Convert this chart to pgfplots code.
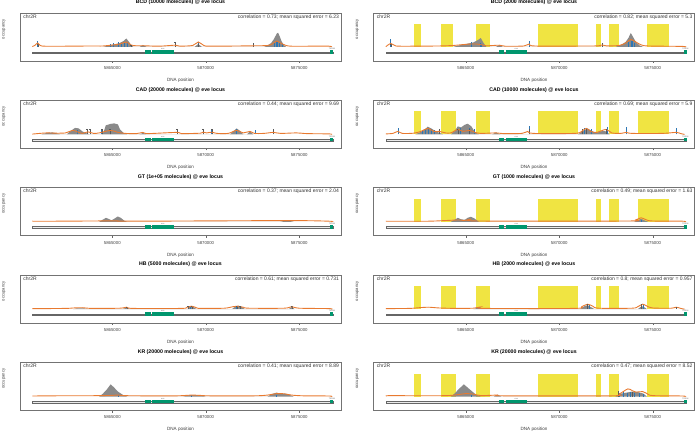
\documentclass[border=0pt]{standalone}
\usepackage{fontspec}
\setmainfont{Liberation Sans}
\usepackage{pgfplots}
\pgfplotsset{compat=1.18}
\definecolor{occgray}{RGB}{138,138,138}
\definecolor{predorange}{RGB}{232,122,48}
\definecolor{siteblue}{RGB}{45,118,180}
\definecolor{genegreen}{RGB}{0,150,110}
\definecolor{yel}{RGB}{240,228,66}
\pgfplotsset{
  every axis title/.style={at={(0.5,1.221)}, anchor=center, font=\bfseries\fontsize{5.2}{6}\selectfont},
  panel/.style={
    scale only axis, width=321pt, height=48pt,
    xmin=5860062, xmax=5877236, ymin=-14, ymax=34,
    axis line style={draw=black!55, line width=0.7pt},
    xtick={5865000,5870000,5875000},
    xticklabels={5865000,5870000,5875000},
    scaled x ticks=false,
    ytick=\empty,
    xtick pos=bottom, xtick align=outside,
    major tick length=2pt,
    every tick/.style={black!60, line width=0.4pt},
    /pgf/number format/assume math mode=true,
    xticklabel style={font=\fontsize{4.3}{5}\selectfont, text=black!75, inner sep=1pt, yshift=-2pt},
    xlabel={DNA position},
    xlabel style={font=\fontsize{4.6}{5}\selectfont, text=black!75, at={(axis description cs:0.5,-0.4)}, anchor=center},
    ylabel={occupancy},
    ylabel style={font=\fontsize{4.2}{5}\selectfont, text=black!75, at={(axis description cs:-0.05,0.667)}, anchor=center},
  },
  occ/.style={fill=occgray, draw=none},
  pred/.style={predorange, line width=0.9pt, smooth, no marks},
  site/.style={ycomb, siteblue, line width=0.6pt, no marks},
  err/.style={ycomb, black!65, line width=0.2pt, mark=-, mark size=0.6pt, mark options={line width=0.2pt}},
}
\newcommand{\yel}[2]{\addplot[fill=yel, draw=none] coordinates {(#1,0)(#1,23)(#2,23)(#2,0)} --cycle;}
\newcommand{\genetrack}{%
  \addplot[draw=black!60, fill=black!8, line width=0.3pt] coordinates {(5860720,-6.3)(5876800,-6.3)(5876800,-4.7)(5860720,-4.7)} --cycle;
  \addplot[draw=none, fill=genegreen] coordinates {(5866750,-6.8)(5867055,-6.8)(5867055,-3.2)(5866750,-3.2)} --cycle;
  \addplot[draw=none, fill=genegreen] coordinates {(5867125,-6.8)(5868300,-6.8)(5868300,-3.2)(5867125,-3.2)} --cycle;
  \addplot[draw=none, fill=genegreen] coordinates {(5876650,-6.8)(5876810,-6.8)(5876810,-3.2)(5876650,-3.2)} --cycle;
  \node[anchor=south, inner sep=0.2pt, font=\fontsize{2}{2}\selectfont, text=black!60] at (axis cs:5867700,-3.2) {eve};
  \node[anchor=south, inner sep=0.2pt, font=\fontsize{2}{2}\selectfont, text=black!60] at (axis cs:5876750,-3.2) {TER94};
}
\newcommand{\paneltext}[1]{%
  \node[anchor=north west, inner sep=0pt, font=\fontsize{5}{6}\selectfont, text=black!80] at (rel axis cs:0.01,0.975) {chr2R};
  \node[anchor=north east, inner sep=0pt, font=\fontsize{5}{6}\selectfont, text=black!80] at (rel axis cs:0.994,0.975) {#1};
}
\begin{document}
\begin{tikzpicture}
\useasboundingbox (0pt,0pt) rectangle (697pt,437pt);

% ---------------- L1 BCD 10000
\begin{axis}[panel, at={(20pt,376pt)}, anchor=south west, title={BCD (10000 molecules) @ eve locus}]
\addplot[occ] coordinates {(5864500,0)(5864800,1.5)(5865100,2.5)(5865400,4)(5865600,6)(5865750,8.5)(5865900,5)(5866040,1)(5866150,0)(5866450,0)(5866640,2)(5866850,0)(5869400,0)(5869601,3)(5869800,0)(5873100,0)(5873300,1.5)(5873500,4)(5873650,8)(5873800,13.5)(5873870,14.3)(5873950,11)(5874050,6)(5874150,2.5)(5874300,0)};
\addplot[site] coordinates {(5861009,5.5)(5864900,3)(5865050,4)(5865300,4.5)(5865500,3)(5865650,5)(5865780,4.5)(5869601,5)(5873650,4)(5873750,5.5)(5873850,6)(5873950,4)(5874100,3)};
\addplot[err] coordinates {(5861009,3)(5866000,2)(5868354,5)(5869601,3)(5872544,4)};
\addplot[pred] coordinates {(5860720,0.5)(5860850,1.5)(5861009,4)(5861150,1.5)(5861400,0.8)(5862500,0.8)(5863800,1)(5864500,1)(5865000,2)(5865400,3)(5865750,5)(5866000,2)(5866300,1.2)(5866640,1.3)(5867500,0.8)(5868354,1.8)(5868600,0.9)(5869300,1.5)(5869601,5)(5869900,1.5)(5870300,0.8)(5872544,1.2)(5873300,1.5)(5873550,3)(5873800,6)(5874000,4)(5874300,1.5)(5874600,0.8)(5875500,0.8)(5876600,0.8)(5876700,0.2)};
\genetrack
\paneltext{correlation = 0.73; mean squared error = 6.23}
\end{axis}

% ---------------- R1 BCD 2000
\begin{axis}[panel, at={(373.5pt,376pt)}, anchor=south west, title={BCD (2000 molecules) @ eve locus}]
\yel{5862218}{5862614}\yel{5863662}{5864304}\yel{5865556}{5866321}\yel{5868889}{5871003}\yel{5871966}{5872249}\yel{5872688}{5873196}\yel{5874721}{5875898}
\addplot[occ] coordinates {(5864300,0)(5864600,1.5)(5865000,3)(5865400,4.5)(5865650,7)(5865803,9)(5865950,4)(5866100,0)(5866600,0)(5866787,2)(5867000,0)(5873000,0)(5873300,2)(5873550,5)(5873700,9)(5873828,14)(5873950,10)(5874100,5)(5874300,1.5)(5874500,0)};
\addplot[site] coordinates {(5860987,8)(5865268,5)(5865750,4)(5865850,3)(5868392,6)(5872323,4)(5873700,5)(5873828,6)(5873900,6)(5874000,4)};
\addplot[err] coordinates {(5860987,3)(5872313,4)};
\addplot[pred] coordinates {(5860720,0.3)(5860800,1.5)(5860987,3.5)(5861200,1.5)(5861500,0.8)(5863500,1)(5864300,1.5)(5864900,2.5)(5865268,3)(5865550,3)(5865800,2.5)(5866100,1.2)(5866787,1.8)(5867100,0.8)(5868100,1)(5868392,3)(5868700,1)(5871500,1)(5872100,1.2)(5872300,2)(5872500,1.2)(5873200,1.5)(5873550,4)(5873828,7.5)(5874100,5)(5874400,2)(5874800,1)(5876600,0.6)(5876700,0)};
\genetrack
\paneltext{correlation = 0.82; mean squared error = 5.3}
\end{axis}

% ---------------- L2 CAD 20000
\begin{axis}[panel, at={(20pt,288.6pt)}, anchor=south west, title={CAD (20000 molecules) @ eve locus}]
\addplot[occ] coordinates {(5861200,0)(5861500,1.5)(5861800,2)(5862041,1)(5862200,0)(5862560,0)(5862750,3)(5863004,6.5)(5863200,6)(5863400,3)(5863630,1)(5863800,0)(5864433,0)(5864550,3)(5864650,9)(5864900,10.5)(5865100,11)(5865300,10)(5865412,5)(5865600,1.5)(5865800,0)(5866450,0)(5866640,1.5)(5866850,0)(5871300,0)(5871500,3.5)(5871655,6)(5871832,3.5)(5872000,0)(5872200,0)(5872367,3)(5872550,0)};
\addplot[site] coordinates {(5863127,4)(5863807,3)(5864433,4)(5864877,5)(5869852,4)(5870318,4)(5871655,5)(5872634,4)};
\addplot[err] coordinates {(5863630,5)(5863807,5)(5864433,5)(5864877,5)(5868445,5)(5869852,5)(5870318,5)(5873614,5)};
\addplot[pred] coordinates {(5860720,0.3)(5861000,0.8)(5861500,1.5)(5862000,1.2)(5862500,1.5)(5862897,4)(5863200,2)(5863400,1)(5863700,2.5)(5864000,1)(5864300,1.5)(5864914,4)(5865300,2)(5865700,1)(5866300,0.8)(5866640,2)(5866900,0.8)(5868445,2)(5868700,0.8)(5869700,1.2)(5869852,2.2)(5870050,1.5)(5870318,2.2)(5870600,1)(5871200,1)(5871655,4)(5872000,1.5)(5872367,3)(5872600,1)(5873100,1)(5873614,2)(5874000,1)(5874865,1.5)(5875400,0.8)(5876600,0.5)(5876700,0)};
\genetrack
\paneltext{correlation = 0.44; mean squared error = 9.69}
\end{axis}

% ---------------- R2 CAD 10000
\begin{axis}[panel, at={(373.5pt,288.6pt)}, anchor=south west, title={CAD (10000 molecules) @ eve locus}]
\yel{5862218}{5862614}\yel{5863662}{5864486}\yel{5865556}{5866321}\yel{5868889}{5871003}\yel{5871966}{5872249}\yel{5872688}{5873196}\yel{5874223}{5875898}
\addplot[occ] coordinates {(5862300,0)(5862600,2.5)(5862800,5)(5862967,7.7)(5863150,6)(5863400,3)(5863593,1.5)(5863800,0)(5864200,0)(5864395,3)(5864572,8)(5864750,7)(5864930,9.5)(5865100,10.7)(5865300,8)(5865500,2)(5865700,0)(5866400,0)(5866626,2)(5866850,0)(5871000,0)(5871243,3)(5871511,6)(5871778,3)(5872000,1.5)(5872313,3.5)(5872511,3)(5872700,0)};
\addplot[site] coordinates {(5861362,6)(5862683,4)(5862850,5)(5863000,6)(5863150,5)(5863325,4)(5864680,6)(5865198,6)(5865465,5)(5868380,8)(5871350,6)(5871709,5)(5872581,7)(5873581,7)(5876256,6)};
\addplot[err] coordinates {(5863593,5)(5864572,5)(5865198,5)(5868392,5)(5871243,5)(5871441,5)(5872511,5)};
\addplot[pred] coordinates {(5860720,0.5)(5861100,1)(5861362,3)(5861600,1)(5862200,1.2)(5862600,3)(5862967,6)(5863300,3)(5863593,3)(5863900,1.5)(5864200,1.5)(5864572,5)(5864850,3)(5865198,4)(5865500,2)(5865800,1)(5866626,1.5)(5867000,0.8)(5868000,1)(5868317,3)(5868600,1)(5870800,1)(5871200,3)(5871441,6)(5871700,3)(5872000,2)(5872511,5)(5872800,1.5)(5873300,1)(5873581,2)(5873900,1)(5875500,1)(5876256,2)(5876500,0.8)(5876700,0)};
\genetrack
\paneltext{correlation = 0.69; mean squared error = 5.9}
\end{axis}

% ---------------- L3 GT 1e+05
\begin{axis}[panel, at={(20pt,201.2pt)}, anchor=south west, title={GT (1e+05 molecules) @ eve locus}]
\addplot[occ] coordinates {(5864300,0)(5864480,2)(5864663,4)(5864850,2.5)(5864960,1.5)(5865100,3)(5865289,5.3)(5865450,4)(5865650,1)(5865800,0)(5874000,0)(5874350,1.5)(5874700,0)};
\addplot[pred] coordinates {(5860720,0.6)(5862000,0.6)(5864663,0.9)(5865289,1)(5866000,0.6)(5874350,1.2)(5876600,0.6)(5876700,0)};
\genetrack
\paneltext{correlation = 0.37; mean squared error = 2.04}
\end{axis}

% ---------------- R3 GT 1000
\begin{axis}[panel, at={(373.5pt,201.2pt)}, anchor=south west, title={GT (1000 molecules) @ eve locus}]
\yel{5862218}{5862614}\yel{5863662}{5864486}\yel{5865556}{5866321}\yel{5868889}{5871003}\yel{5871966}{5872249}\yel{5872688}{5873196}\yel{5874223}{5875898}
\addplot[occ] coordinates {(5864200,0)(5864400,2)(5864572,4)(5864750,2.5)(5864950,2)(5865100,4)(5865268,5)(5865450,3.5)(5865700,0)(5874000,0)(5874200,1.5)(5874384,3)(5874550,1.5)(5874750,0)};
\addplot[site] coordinates {(5874384,2)};
\addplot[pred] coordinates {(5860720,0.6)(5863000,0.6)(5864572,1.8)(5864900,1.2)(5865268,2.5)(5865700,0.8)(5873600,0.8)(5874100,2)(5874384,4)(5874650,2)(5875000,0.8)(5876600,0.6)(5876700,0)};
\genetrack
\paneltext{correlation = 0.49; mean squared error = 1.63}
\end{axis}

% ---------------- L4 HB 5000
\begin{axis}[panel, at={(20pt,113.8pt)}, anchor=south west, title={HB (5000 molecules) @ eve locus}]
\addplot[occ] coordinates {(5862900,0)(5863100,0.8)(5863500,0.8)(5863700,0)(5865500,0)(5865770,1.5)(5866000,0)(5869000,0)(5869150,2.5)(5869300,3)(5869500,0)(5871400,0)(5871600,3)(5871750,3.5)(5871950,2)(5872100,0)(5874450,0)(5874600,2.5)(5874750,0)};
\addplot[site] coordinates {(5869150,2)(5871650,2.5)};
\addplot[err] coordinates {(5865770,2.5)(5869050,3)(5869248,3)(5871655,3)(5871832,3)(5874598,3)};
\addplot[pred] coordinates {(5860720,0.5)(5862500,0.8)(5862900,1.2)(5863400,1.5)(5863900,0.8)(5865400,1)(5865770,2)(5866100,0.8)(5868700,0.8)(5869000,2)(5869250,3)(5869500,1.5)(5869700,0.8)(5871000,1)(5871450,2.5)(5871700,3)(5872000,2)(5872300,1)(5874200,1)(5874598,2.5)(5875000,1)(5876600,0.6)(5876700,0)};
\genetrack
\paneltext{correlation = 0.61; mean squared error = 0.731}
\end{axis}

% ---------------- R4 HB 2000
\begin{axis}[panel, at={(373.5pt,113.8pt)}, anchor=south west, title={HB (2000 molecules) @ eve locus}]
\yel{5862218}{5862614}\yel{5863662}{5864486}\yel{5865556}{5866321}\yel{5868889}{5871003}\yel{5871966}{5872249}\yel{5872688}{5873196}\yel{5874721}{5875898}
\addplot[occ] coordinates {(5865400,0)(5865733,2)(5866000,0)(5871100,0)(5871350,3)(5871511,4)(5871700,2)(5871900,0)(5874200,0)(5874400,3)(5874550,2)(5874700,0)};
\addplot[site] coordinates {(5871618,4)(5874470,4)};
\addplot[err] coordinates {(5871511,5)(5874400,5)(5876256,2)};
\addplot[pred] coordinates {(5860720,0.6)(5862000,0.8)(5862500,1.5)(5863000,2)(5863600,1.2)(5864500,0.8)(5865400,1)(5865733,2)(5866000,0.8)(5870800,0.8)(5871200,2.5)(5871511,5)(5871800,3)(5872100,1)(5873900,1)(5874200,2.5)(5874470,5)(5874700,3)(5875000,1.2)(5876000,1)(5876256,2)(5876500,0.8)(5876700,0)};
\genetrack
\paneltext{correlation = 0.8; mean squared error = 0.957}
\end{axis}

% ---------------- L5 KR 20000
\begin{axis}[panel, at={(20pt,26.4pt)}, anchor=south west, title={KR (20000 molecules) @ eve locus}]
\addplot[occ] coordinates {(5864300,0)(5864500,3)(5864700,7)(5864914,12.3)(5865100,9)(5865300,5)(5865589,1.5)(5865800,0)(5868800,0)(5869100,1.5)(5869700,1.5)(5870000,0)(5873300,0)(5873528,2.5)(5873795,4)(5874050,2.5)(5874240,3)(5874450,2)(5874700,0)};
\addplot[site] coordinates {(5865305,1.5)(5869248,1.5)(5873795,2)};
\addplot[pred] coordinates {(5860720,0.6)(5862000,0.8)(5864000,0.9)(5865000,1.2)(5865235,1.6)(5865600,1)(5866500,0.8)(5868500,0.8)(5869200,1.5)(5869700,1.2)(5870200,0.8)(5872600,0.8)(5873300,1.5)(5873800,3)(5874200,2.8)(5874600,1.5)(5875200,0.8)(5876600,0.6)(5876700,0)};
\genetrack
\paneltext{correlation = 0.41; mean squared error = 8.89}
\end{axis}

% ---------------- R5 KR 20000
\begin{axis}[panel, at={(373.5pt,26.4pt)}, anchor=south west, title={KR (20000 molecules) @ eve locus}]
\yel{5862218}{5862614}\yel{5863662}{5864486}\yel{5865556}{5866321}\yel{5868889}{5871003}\yel{5871966}{5872249}\yel{5872688}{5873196}\yel{5874721}{5875898}
\addplot[occ] coordinates {(5864200,0)(5864400,3)(5864600,7)(5864893,12.3)(5865100,9)(5865350,5)(5865550,2)(5865800,0)(5866500,0)(5866700,2)(5866900,0)(5873000,0)(5873300,3)(5873600,4)(5873900,5)(5874200,4.5)(5874500,3)(5874700,0)};
\addplot[site] coordinates {(5865268,2)(5873200,4)(5873450,5)(5873667,4)(5873800,5)(5874000,4)(5874300,4)(5874470,3)};
\addplot[err] coordinates {(5873150,5)(5873900,4)};
\addplot[pred] coordinates {(5860720,0.6)(5861000,1)(5862500,0.8)(5864000,1)(5864600,2)(5865000,3)(5865400,2.5)(5865800,1)(5866700,1.5)(5867000,0.8)(5872800,0.8)(5873200,2.5)(5873667,7.7)(5873900,6)(5874100,4.5)(5874470,5)(5874700,3)(5875000,1)(5876600,0.6)(5876700,0)};
\genetrack
\paneltext{correlation = 0.47; mean squared error = 8.52}
\end{axis}
\end{tikzpicture}
\end{document}
